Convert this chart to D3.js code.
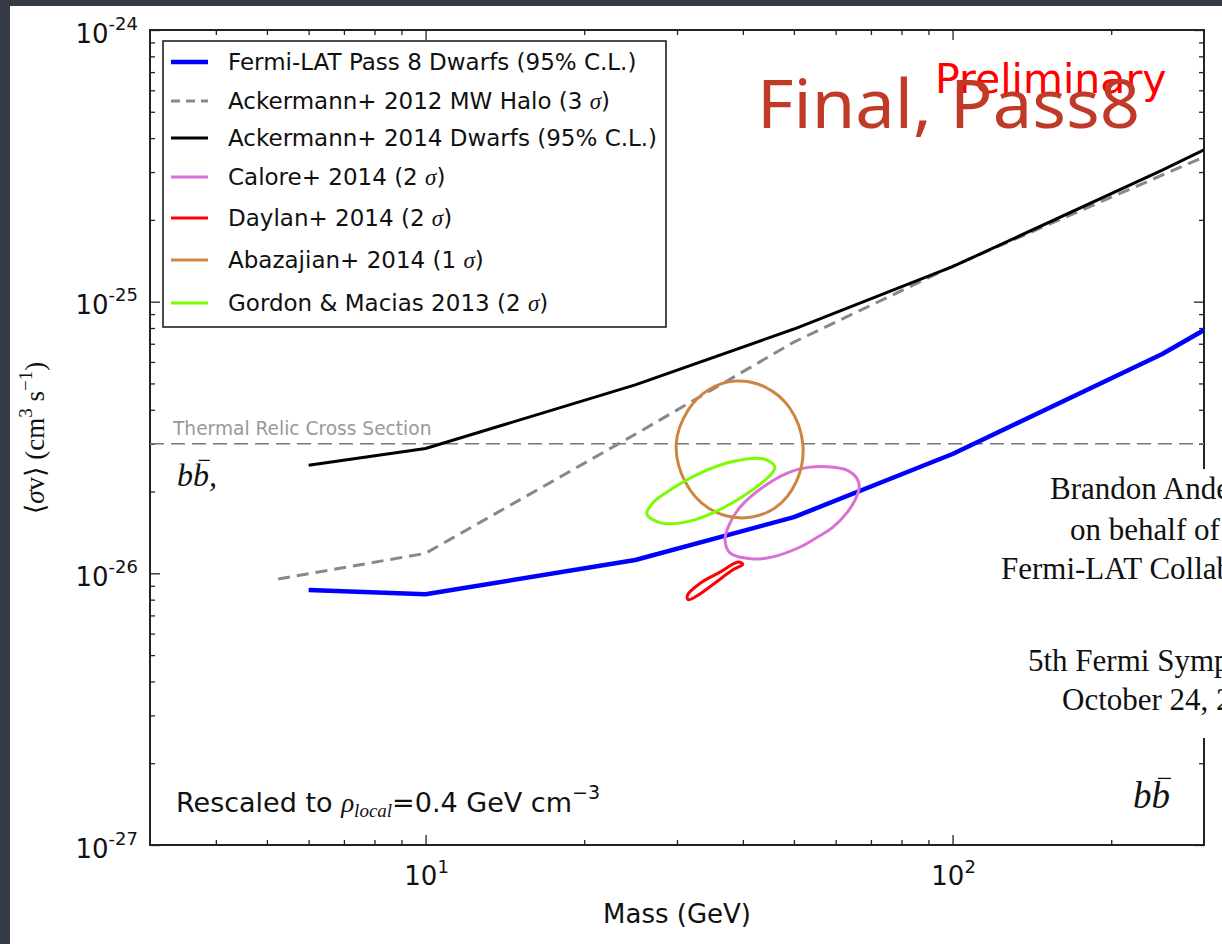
<!DOCTYPE html>
<html lang="en">
<head>
<meta charset="UTF-8">
<title>Annihilation cross section limits, b-bbar</title>
<script src="https://d3js.org/d3.v7.min.js"></script>
<style>
  html, body { margin: 0; padding: 0; background: #353a46; }
  svg { display: block; }
  text { font-family: "DejaVu Sans", sans-serif; fill: #111; }
  .math { font-family: "Liberation Serif", "DejaVu Serif", serif; font-style: italic; }
  .serif { font-family: "Liberation Serif", "DejaVu Serif", serif; }
</style>
</head>
<body>
<div id="chart"></div>
<script>
// ---- values ----
const massFermiP8 = [6, 10, 25, 50, 100, 250, 300];
const svFermiP8   = [8.68e-27, 8.37e-27, 1.12e-26, 1.61e-26, 2.75e-26, 6.42e-26, 7.86e-26];

const massAck14 = [6, 10, 25, 50, 100, 250, 300];
const svAck14   = [2.50e-26, 2.88e-26, 4.94e-26, 7.93e-26, 1.345e-25, 3.05e-25, 3.62e-25];

const massAck12 = [5.25, 10, 25, 50, 100, 300];
const svAck12   = [9.53e-27, 1.185e-26, 3.25e-26, 7.10e-26, 1.35e-25, 3.41e-25];

const thermalRelic = 3e-26;

// closed contours: mass (GeV) and <sigma v>
const caloreMass = [57.7, 63.0, 65.8, 66.5, 65.3, 63.0, 59.3, 54.4, 51.4, 45.6, 41.8, 37.8, 37.0, 37.5, 39.5, 43.7, 49.1, 53.6];
const caloreSv   = [2.47e-26, 2.40e-26, 2.24e-26, 2.08e-26, 1.86e-26, 1.67e-26, 1.48e-26, 1.33e-26, 1.25e-26, 1.15e-26, 1.13e-26, 1.19e-26, 1.33e-26, 1.48e-26, 1.75e-26, 2.08e-26, 2.36e-26, 2.46e-26];

const daylanMass = [31.4, 33.2, 36.2, 39.2, 40.0, 38.3, 35.1, 32.7, 31.5];
const daylanSv   = [8.3e-27, 9.2e-27, 1.01e-26, 1.10e-26, 1.08e-26, 1.03e-26, 9.1e-27, 8.25e-27, 8.0e-27];

const abazajianMass = [29.9, 31.5, 34.4, 38.7, 44.1, 49.1, 52.0, 50.5, 46.0, 39.9, 34.4, 31.1];
const abazajianSv   = [2.99e-26, 3.99e-26, 4.73e-26, 5.10e-26, 4.85e-26, 4.06e-26, 2.97e-26, 2.17e-26, 1.74e-26, 1.60e-26, 1.74e-26, 2.17e-26];

const gordonMass = [46.0, 43.7, 38.3, 33.2, 29.5, 27.0, 26.3, 28.1, 31.4, 35.1, 39.5, 43.7, 45.6];
const gordonSv   = [2.48e-26, 2.64e-26, 2.58e-26, 2.34e-26, 2.06e-26, 1.82e-26, 1.65e-26, 1.53e-26, 1.55e-26, 1.67e-26, 1.89e-26, 2.17e-26, 2.36e-26];

const legendLabels = [
  "Fermi-LAT Pass 8 Dwarfs (95% C.L.)",
  "Ackermann+ 2012 MW Halo (3 σ)",
  "Ackermann+ 2014 Dwarfs (95% C.L.)",
  "Calore+ 2014 (2 σ)",
  "Daylan+ 2014 (2 σ)",
  "Abazajian+ 2014 (1 σ)",
  "Gordon & Macias 2013 (2 σ)"
];
const xMajorTicks = [10, 100];
const yMajorTicks = [1e-27, 1e-26, 1e-25, 1e-24];
const creditLines = ["Brandon Anderson", "on behalf of the", "Fermi-LAT Collaboration", "5th Fermi Symposium", "October 24, 2014"];

// ---- styles ----
const legendStyle = [
  {color: "#0000ff", width: 4.5, dash: null},
  {color: "#888888", width: 3, dash: "9,6"},
  {color: "#000000", width: 3, dash: null},
  {color: "orchid", width: 3, dash: null},
  {color: "#ff0000", width: 3, dash: null},
  {color: "peru", width: 3, dash: null},
  {color: "lawngreen", width: 3, dash: null}
];
const legendRowY = [62, 101, 138, 177, 218, 260, 303];

const W = 1222, H = 944;
const svg = d3.select("#chart").append("svg").attr("width", W).attr("height", H);

// slide page
svg.append("rect").attr("x", 10).attr("y", 6).attr("width", W - 10).attr("height", H - 6).attr("fill", "#fff");

const x = d3.scaleLog().domain([3, 300]).range([150, 1204]);
const y = d3.scaleLog().domain([1e-27, 1e-24]).range([845, 30]);

svg.append("clipPath").attr("id", "plotclip")
   .append("rect").attr("x", 150).attr("y", 30).attr("width", 1054).attr("height", 815);

// minor tick positions
const yMinor = [];
for (let e = -27; e < -24; e++) for (let k = 2; k <= 9; k++) yMinor.push(k * Math.pow(10, e));
const xMinor = [4, 5, 6, 7, 8, 9, 20, 30, 40, 50, 60, 70, 80, 90, 200];

function ticks(gen, tx, ty, values, size) {
  svg.append("g").attr("transform", `translate(${tx},${ty})`)
     .call(gen.tickValues(values).tickSize(size).tickFormat(""))
     .call(g => g.select(".domain").remove())
     .call(g => g.selectAll("line").attr("stroke", "#222").attr("stroke-width", 1.3));
}
ticks(d3.axisLeft(y), 150, 0, yMajorTicks, -10);
ticks(d3.axisLeft(y), 150, 0, yMinor, -5);
ticks(d3.axisRight(y), 1204, 0, yMajorTicks, -10);
ticks(d3.axisRight(y), 1204, 0, yMinor, -5);
ticks(d3.axisBottom(x), 0, 845, xMajorTicks, -10);
ticks(d3.axisBottom(x), 0, 845, xMinor, -5);
ticks(d3.axisTop(x), 0, 30, xMajorTicks, -10);
ticks(d3.axisTop(x), 0, 30, xMinor, -5);

svg.append("rect").attr("x", 150).attr("y", 30).attr("width", 1054).attr("height", 815)
   .attr("fill", "none").attr("stroke", "#222").attr("stroke-width", 2);

// tick labels
yMajorTicks.forEach(v => {
  const t = svg.append("text").attr("x", 138).attr("y", y(v) + 12.7)
     .attr("text-anchor", "end").style("font-size", "26px");
  t.append("tspan").text("10");
  t.append("tspan").attr("dy", -13).style("font-size", "18px").text(String(Math.round(Math.log10(v))));
});
xMajorTicks.forEach(v => {
  const t = svg.append("text").attr("x", x(v) + 1).attr("y", 885)
     .attr("text-anchor", "middle").style("font-size", "26px");
  t.append("tspan").text("10");
  t.append("tspan").attr("dy", -12).style("font-size", "18px").text(String(Math.round(Math.log10(v))));
});

svg.append("text").attr("x", 677).attr("y", 923).attr("text-anchor", "middle")
   .style("font-size", "26px").text("Mass (GeV)");

// y label
const yl = svg.append("text").attr("class", "serif")
   .attr("transform", "translate(44,438) rotate(-90)")
   .attr("text-anchor", "middle").style("font-size", "27px");
yl.append("tspan").text("⟨");
yl.append("tspan").style("font-style", "italic").text("σ");
yl.append("tspan").text("v⟩ (cm");
yl.append("tspan").attr("dy", -12).style("font-size", "19px").text("3");
yl.append("tspan").attr("dy", 12).text("  s");
yl.append("tspan").attr("dy", -12).style("font-size", "19px").text("−1");
yl.append("tspan").attr("dy", 12).text(")");

const plot = svg.append("g").attr("clip-path", "url(#plotclip)");

// thermal relic line
plot.append("line").attr("x1", 150).attr("x2", 1204)
    .attr("y1", y(thermalRelic)).attr("y2", y(thermalRelic))
    .attr("stroke", "#777").attr("stroke-width", 1.6).attr("stroke-dasharray", "14,7");
svg.append("text").attr("x", 173).attr("y", 435).style("font-size", "18.6px")
   .style("fill", "#999").text("Thermal Relic Cross Section");

const line = d3.line().x(d => x(d[0])).y(d => y(d[1]));
const closed = d3.line().x(d => x(d[0])).y(d => y(d[1])).curve(d3.curveCatmullRomClosed.alpha(0.5));
const zip = (a, b) => a.map((v, i) => [v, b[i]]);

plot.append("path").attr("d", line(zip(massAck12, svAck12))).attr("fill", "none")
    .attr("stroke", "#888").attr("stroke-width", 3).attr("stroke-dasharray", "12,7");
plot.append("path").attr("d", line(zip(massAck14, svAck14))).attr("fill", "none")
    .attr("stroke", "#000").attr("stroke-width", 3).attr("stroke-linejoin", "round");
plot.append("path").attr("d", line(zip(massFermiP8, svFermiP8))).attr("fill", "none")
    .attr("stroke", "#0000ff").attr("stroke-width", 4.5).attr("stroke-linejoin", "round");

[[caloreMass, caloreSv, "orchid"], [daylanMass, daylanSv, "#ff0000"],
 [abazajianMass, abazajianSv, "peru"], [gordonMass, gordonSv, "lawngreen"]].forEach(([m, s, c]) => {
  plot.append("path").attr("d", closed(zip(m, s))).attr("fill", "none")
      .attr("stroke", c).attr("stroke-width", 3);
});

// legend
svg.append("rect").attr("x", 163).attr("y", 41).attr("width", 503).attr("height", 286)
   .attr("fill", "#fff").attr("stroke", "#111").attr("stroke-width", 1.5);
legendLabels.forEach((lab, i) => {
  const st = legendStyle[i], ly = legendRowY[i];
  svg.append("line").attr("x1", 171).attr("x2", 208).attr("y1", ly).attr("y2", ly)
     .attr("stroke", st.color).attr("stroke-width", st.width)
     .attr("stroke-dasharray", st.dash);
  const t = svg.append("text").attr("x", 228).attr("y", ly + 8).style("font-size", "23px");
  const parts = lab.split("σ");
  t.append("tspan").text(parts[0]);
  if (parts.length > 1) {
    t.append("tspan").attr("class", "math").text("σ");
    t.append("tspan").text(parts[1]);
  }
});

// b bbar labels: thin bar drawn over the second b
function bbar(xp, yp, size, comma) {
  const t = svg.append("text").attr("class", "math").attr("x", xp).attr("y", yp)
     .style("font-size", size + "px").text(comma ? "bb," : "bb");
  const ext = t.node().getExtentOfChar(1);
  svg.append("line")
     .attr("x1", ext.x + ext.width * 0.35).attr("x2", ext.x + ext.width * 1.05)
     .attr("y1", yp - size * 0.8).attr("y2", yp - size * 0.8)
     .attr("stroke", "#111").attr("stroke-width", 1.3);
}
bbar(177, 486, 32, true);
bbar(1133, 808, 37, false);

// rescaled note
const rs = svg.append("text").attr("x", 176).attr("y", 812).style("font-size", "27px");
rs.append("tspan").text("Rescaled to ");
rs.append("tspan").attr("class", "math").text("ρ");
rs.append("tspan").attr("class", "math").attr("dy", 5).style("font-size", "19px").text("local");
rs.append("tspan").attr("dy", -5).text("=0.4 GeV cm");
rs.append("tspan").attr("dy", -13).style("font-size", "19px").text("−3");

// slide overlays
svg.append("text").attr("x", 935).attr("y", 93).style("font-size", "41px").style("fill", "#ff0000")
   .text("Preliminary");
svg.append("text").attr("x", 757).attr("y", 128)
   .attr("textLength", 383).attr("lengthAdjust", "spacingAndGlyphs")
   .style("font-family", "'Comic Sans MS', 'Noto Sans', sans-serif")
   .style("font-size", "68px").style("fill", "#c13a27").text("Final, Pass8");

svg.append("rect").attr("x", 985).attr("y", 469).attr("width", W - 985).attr("height", 269).attr("fill", "#fff");
const creditX = [1050, 1070, 1001, 1028, 1062];
const creditY = [499, 540, 579, 671, 710];
creditLines.forEach((s, i) => {
  svg.append("text").attr("class", "serif").attr("x", creditX[i]).attr("y", creditY[i])
     .style("font-size", "31px").text(s);
});
</script>
</body>
</html>
